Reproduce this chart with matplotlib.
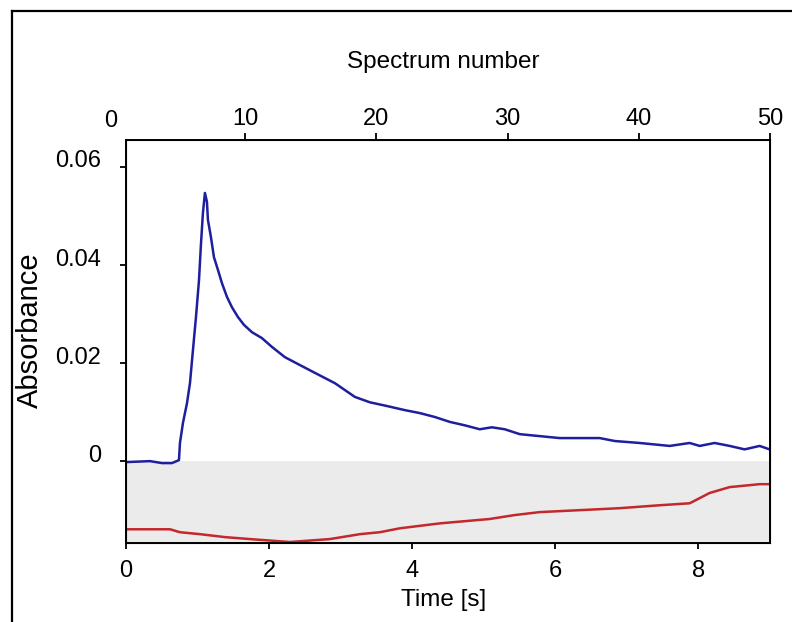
import matplotlib
matplotlib.use("Agg")
import matplotlib.pyplot as plt
from matplotlib.lines import Line2D
from matplotlib.transforms import ScaledTranslation

plt.rcParams['font.family'] = ['Liberation Sans', 'DejaVu Sans']

# absorbance trace at the peak band (blue)
t_blue = [0.0, 0.335, 0.503, 0.642, 0.740, 0.754, 0.796, 0.852, 0.894, 0.936,
          0.978, 1.020, 1.047, 1.075, 1.103, 1.131, 1.145, 1.187, 1.229, 1.285,
          1.341, 1.411, 1.480, 1.564, 1.648, 1.760, 1.899, 2.039, 2.221, 2.430,
          2.640, 2.919, 3.059, 3.198, 3.408, 3.659, 3.897, 4.106, 4.316, 4.525,
          4.735, 4.944, 5.112, 5.293, 5.503, 5.782, 6.061, 6.620, 6.830, 7.179,
          7.598, 7.877, 8.017, 8.226, 8.436, 8.645, 8.855, 8.994]
a_blue = [-0.0002, 0.0, -0.0004, -0.0004, 0.0002, 0.0037, 0.0078, 0.0118, 0.0159, 0.0227,
          0.0294, 0.0369, 0.0441, 0.0506, 0.0547, 0.0529, 0.0492, 0.0457, 0.0416, 0.0390,
          0.0363, 0.0335, 0.0314, 0.0294, 0.0278, 0.0263, 0.0251, 0.0233, 0.0212, 0.0196,
          0.0180, 0.0159, 0.0145, 0.0131, 0.0120, 0.0112, 0.0104, 0.0098, 0.0090, 0.0080,
          0.0073, 0.0065, 0.0069, 0.0065, 0.0055, 0.0051, 0.0047, 0.0047, 0.0041, 0.0037,
          0.0031, 0.0037, 0.0031, 0.0037, 0.0031, 0.0024, 0.0031, 0.0024]

# negative band (red)
t_red = [0.0, 0.615, 0.754, 1.034, 1.383, 1.732, 2.291, 2.849, 3.268, 3.547,
         3.827, 4.385, 5.084, 5.433, 5.782, 6.341, 6.899, 7.458, 7.877, 8.156,
         8.436, 8.855, 8.994]
a_red = [-0.0139, -0.0139, -0.0145, -0.0149, -0.0155, -0.0159, -0.0165, -0.0159, -0.0149, -0.0145,
         -0.0137, -0.0127, -0.0118, -0.0110, -0.0104, -0.0100, -0.0096, -0.0090, -0.0086, -0.0065,
         -0.0053, -0.0047, -0.0047]

time_ticks = [0, 2, 4, 6, 8]
abs_ticks = [0, 0.02, 0.04, 0.06]
abs_labels = ['0', '0.02', '0.04', '0.06']
spec_ticks = [10, 20, 30, 40, 50]

W, H = 792, 622
fig = plt.figure(figsize=(W / 100, H / 100), dpi=100)
ax = fig.add_axes([126 / W, 1 - 543 / H, 644 / W, 403 / H])

ax.set_xlim(0, 9)
ax.set_ylim(-0.0167, 0.0655)
ax.axhspan(-0.0167, 0, color='#ebebeb', lw=0, zorder=0)

ax.plot(t_blue, a_blue, color='#1e1e9e', lw=1.8)
ax.plot(t_red, a_red, color='#c3282c', lw=1.8)

for s in ax.spines.values():
    s.set_linewidth(1.4)

ax.set_xticks(time_ticks)
ax.set_yticks(abs_ticks)
ax.set_yticklabels(abs_labels)
ax.tick_params(axis='x', length=4, width=1.3, pad=8, labelsize=17)
ax.tick_params(axis='y', length=4, width=1.3, pad=14, labelsize=17)
for lab in ax.get_yticklabels():
    lab.set_transform(lab.get_transform() + ScaledTranslation(0, 0.08, fig.dpi_scale_trans))

# spectrum index on the top axis
ax2 = ax.twiny()
ax2.set_xlim(0.915, 50)
ax2.set_xticks(spec_ticks)
ax2.tick_params(axis='x', length=5, width=1.3, pad=2, labelsize=17)
ax2.annotate('0', xy=(0, 1), xycoords=('data', 'axes fraction'),
             xytext=(-3, 8), textcoords='offset pixels',
             ha='center', va='bottom', fontsize=17, annotation_clip=False)

fig.text(443 / W, 1 - 62 / H, 'Spectrum number', ha='center', va='center', fontsize=17.5)
fig.text(444 / W, 1 - 600 / H, 'Time [s]', ha='center', va='center', fontsize=17.5)
fig.text(30 / W, 1 - 330 / H, 'Absorbance', ha='center', va='center',
         rotation=90, fontsize=21)

# window frame
fig.add_artist(Line2D([12 / W, 12 / W], [0, 1 - 11 / H], color='black', lw=1.6,
                      transform=fig.transFigure))
fig.add_artist(Line2D([12 / W, 1], [1 - 11 / H, 1 - 11 / H], color='black', lw=1.6,
                      transform=fig.transFigure))

fig.savefig('out.png', dpi=100)
